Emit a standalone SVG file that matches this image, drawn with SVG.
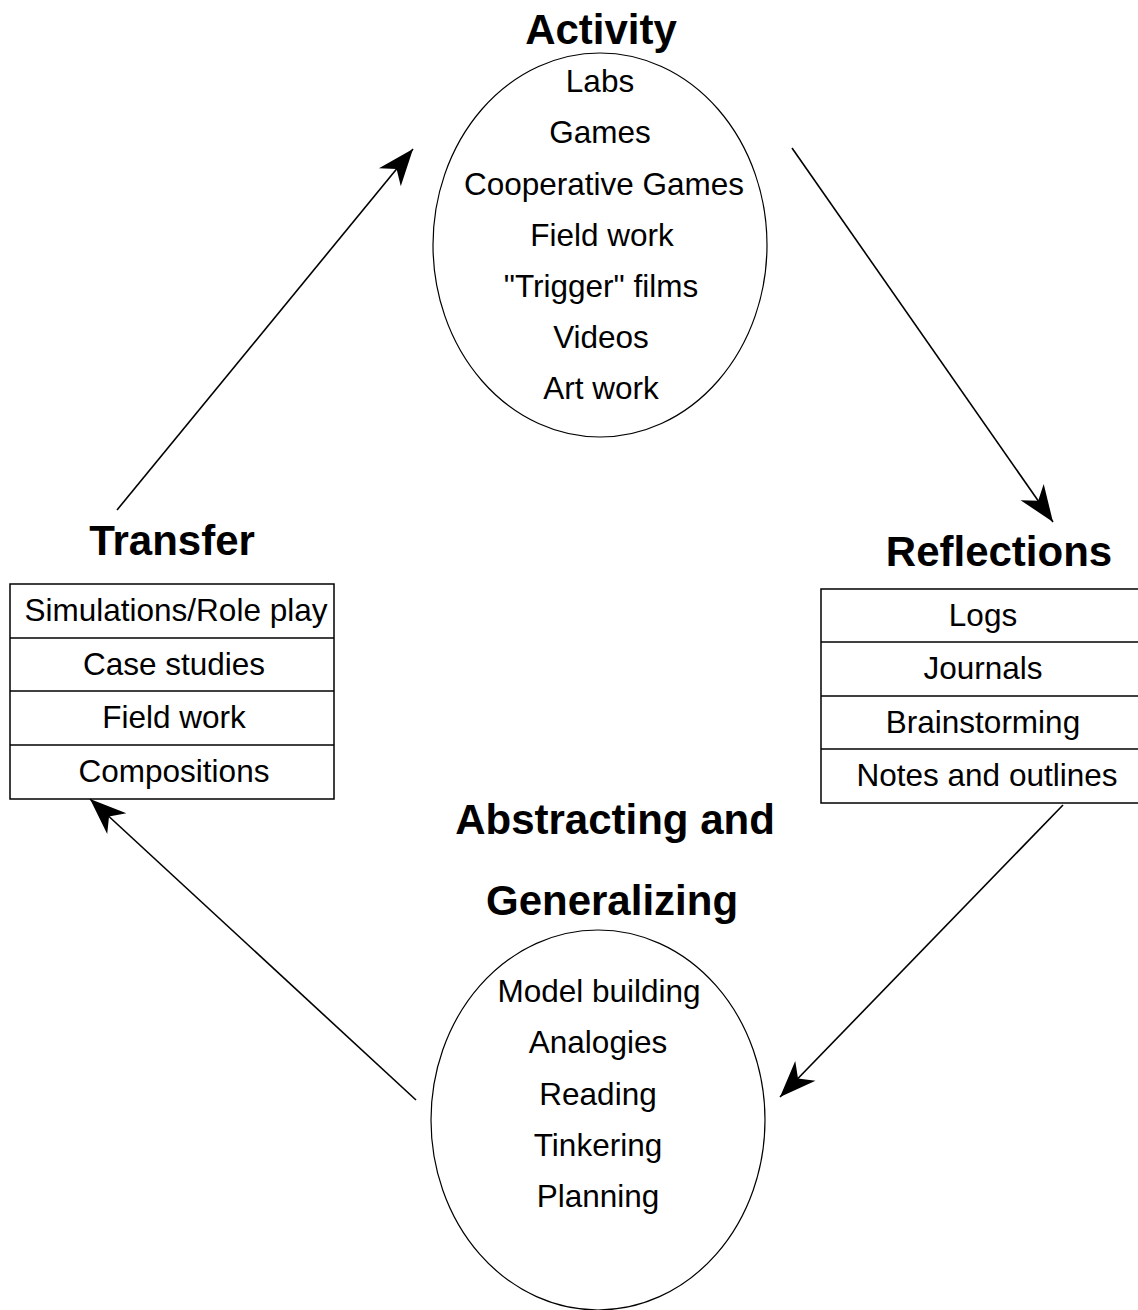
<svg xmlns="http://www.w3.org/2000/svg" width="1138" height="1310" viewBox="0 0 1138 1310">
<defs>
<marker id="arr" markerUnits="userSpaceOnUse" markerWidth="40" markerHeight="40" viewBox="-32 -14 34 28" refX="0" refY="0" orient="auto">
<path d="M0,0 L-31,-12 L-22,0 L-31,12 Z" fill="#000"/>
</marker>
</defs>
<style>
.t{font-family:"Liberation Sans",Arial,sans-serif;font-size:31.5px;text-anchor:middle;fill:#000}
.h{font-family:"Liberation Sans",Arial,sans-serif;font-size:42px;font-weight:bold;text-anchor:middle;fill:#000}
.e{fill:#fff;stroke:#000;stroke-width:1.2}
.b{fill:#fff;stroke:#000;stroke-width:1.5}
.c{stroke:#000;stroke-width:1.6;fill:none;marker-end:url(#arr)}
</style>
<rect width="1138" height="1310" fill="#fff"/>
<g id="activity">
<text class="h" x="601" y="44">Activity</text>
<ellipse class="e" cx="600" cy="245" rx="167" ry="192"/>
<text class="t" x="600" y="92">Labs</text>
<text class="t" x="600" y="143">Games</text>
<text class="t" x="604" y="195">Cooperative Games</text>
<text class="t" x="602" y="246">Field work</text>
<text class="t" x="601" y="297">"Trigger" films</text>
<text class="t" x="601" y="348">Videos</text>
<text class="t" x="601" y="399">Art work</text>
</g>
<g id="reflections">
<text class="h" x="999" y="566">Reflections</text>
<rect class="b" x="821" y="589" width="324" height="214"/>
<line class="b" x1="821" y1="642" x2="1145" y2="642"/>
<line class="b" x1="821" y1="696" x2="1145" y2="696"/>
<line class="b" x1="821" y1="749" x2="1145" y2="749"/>
<text class="t" x="983" y="626">Logs</text>
<text class="t" x="983" y="679">Journals</text>
<text class="t" x="983" y="733">Brainstorming</text>
<text class="t" x="987" y="786">Notes and outlines</text>
</g>
<g id="abstracting">
<text class="h" x="615" y="834">Abstracting and</text>
<text class="h" x="612" y="915">Generalizing</text>
<ellipse class="e" cx="598" cy="1120" rx="167" ry="190"/>
<text class="t" x="599" y="1002">Model building</text>
<text class="t" x="598" y="1053">Analogies</text>
<text class="t" x="598" y="1105">Reading</text>
<text class="t" x="598" y="1156">Tinkering</text>
<text class="t" x="598" y="1207">Planning</text>
</g>
<g id="transfer">
<text class="h" x="172" y="555">Transfer</text>
<rect class="b" x="10" y="584" width="324" height="215"/>
<line class="b" x1="10" y1="638" x2="334" y2="638"/>
<line class="b" x1="10" y1="691" x2="334" y2="691"/>
<line class="b" x1="10" y1="745" x2="334" y2="745"/>
<text class="t" x="176" y="621">Simulations/Role play</text>
<text class="t" x="174" y="675">Case studies</text>
<text class="t" x="174" y="728">Field work</text>
<text class="t" x="174" y="782">Compositions</text>
</g>
<g id="connectors">
<line class="c" x1="117" y1="510" x2="413" y2="149"/>
<line class="c" x1="792" y1="148" x2="1053" y2="522"/>
<line class="c" x1="1063" y1="805" x2="780" y2="1097"/>
<line class="c" x1="416" y1="1100" x2="90" y2="799"/>
</g>
</svg>
